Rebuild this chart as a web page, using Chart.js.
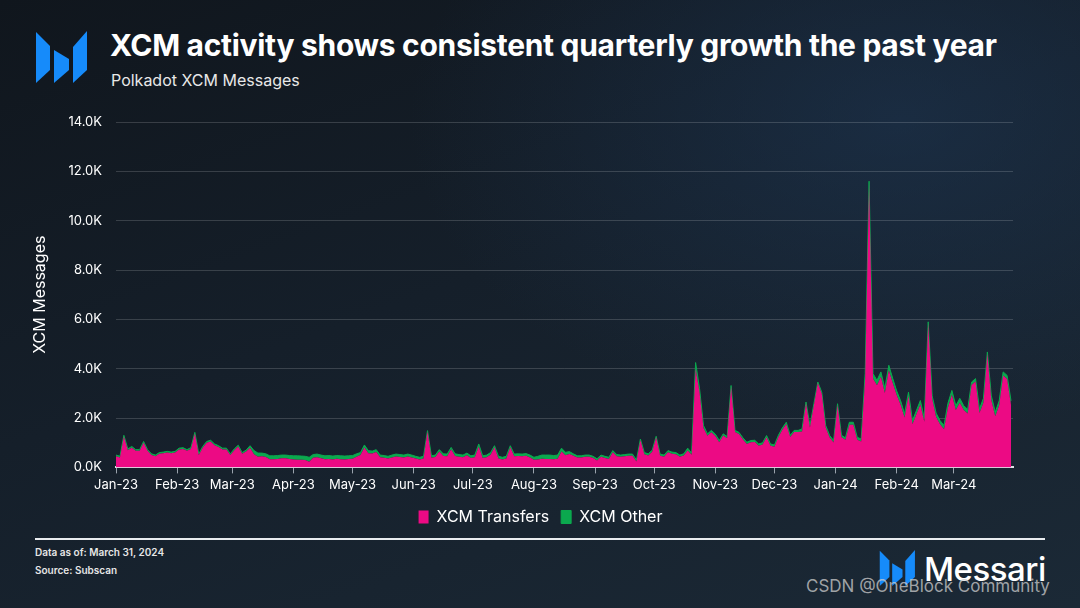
<!DOCTYPE html>
<html>
<head>
<meta charset="utf-8">
<script src="https://cdn.jsdelivr.net/npm/chart.js@4.4.1/dist/chart.umd.min.js"></script>
<style>
  html, body { margin: 0; padding: 0; }
  body {
    width: 1080px; height: 608px; overflow: hidden; position: relative;
    font-family: Inter, "Liberation Sans", sans-serif; color: #fff;
    background:
      radial-gradient(ellipse 700px 450px at 900px 120px, rgba(30,55,85,0.55), rgba(30,55,85,0) 70%),
      linear-gradient(160deg, #10161d 0%, #151f2a 45%, #1b2936 100%);
  }
  #title { position: absolute; left: 110px; top: 27px; font-size: 30px; font-weight: 700; letter-spacing: -0.3px; white-space: nowrap; }
  #subtitle { position: absolute; left: 111px; top: 70px; font-size: 16px; color: #e8e8e8; }
  #chartWrap { position: absolute; left: 0; top: 0; width: 1080px; height: 540px; }
  #rule { position: absolute; left: 35px; top: 538px; width: 1010px; height: 2px; background: #e9ecef; }
  .note { position: absolute; left: 35px; font-size: 10px; font-weight: 600; color: #e6e6e6; }
  #brand { position: absolute; left: 924px; top: 549px; font-size: 33px; font-weight: 500; letter-spacing: -0.5px; }
  #wm { position: absolute; left: 806px; top: 576px; font-size: 17px; color: rgba(205,205,205,0.75); white-space: nowrap; }
</style>
</head>
<body>
<svg style="position:absolute;left:0;top:0" width="100" height="100">
  <g fill="#168bfa">
    <polygon points="36,32 50,46 50,70 36,83"/>
    <polygon points="54,50 69,59 69,70 54,83"/>
    <polygon points="73,47 87,31 87,70 73,83"/>
  </g>
</svg>
<div id="title">XCM activity shows consistent quarterly growth the past year</div>
<div id="subtitle">Polkadot XCM Messages</div>
<div id="chartWrap"><canvas id="xcmChart" width="1080" height="540"></canvas></div>
<div id="rule"></div>
<div class="note" style="top:546px">Data as of: March 31, 2024</div>
<div class="note" style="top:564px">Source: Subscan</div>
<svg style="position:absolute;left:872px;top:548px" width="50" height="40" viewBox="30 28 62 58">
  <g fill="#168bfa">
    <polygon points="36,32 50,46 50,70 36,83"/>
    <polygon points="54,50 69,59 69,70 54,83"/>
    <polygon points="73,47 87,31 87,70 73,83"/>
  </g>
</svg>
<div id="brand">Messari</div>
<div id="wm">CSDN @OneBlock Community</div>

<script>
// one reading every 2 days, starting Jan 1 2023
const step = 2;

const monthStarts = [0, 31, 59, 90, 120, 151, 181, 212, 243, 273, 304, 334, 365, 396, 425];
const monthLabels = ["Jan-23", "Feb-23", "Mar-23", "Apr-23", "May-23", "Jun-23", "Jul-23", "Aug-23",
  "Sep-23", "Oct-23", "Nov-23", "Dec-23", "Jan-24", "Feb-24", "Mar-24"];

const xcmTransfers = [
  450, 400, 1250, 700, 800, 670, 670, 1000, 670, 500,
  450, 550, 570, 600, 570, 600, 730, 750, 670, 750,
  1370, 500, 800, 1000, 1050, 900, 830, 730, 730, 500,
  700, 850, 550, 640, 800, 530, 430, 450, 420, 330,
  330, 340, 370, 370, 340, 320, 310, 310, 300, 230,
  390, 410, 370, 330, 340, 320, 350, 330, 320, 340,
  350, 430, 500, 810, 570, 560, 620, 410, 390, 360,
  400, 440, 420, 400, 440, 400, 360, 320, 360, 1460,
  390, 420, 640, 460, 450, 740, 460, 430, 410, 490,
  380, 410, 850, 380, 410, 510, 820, 360, 320, 360,
  820, 450, 460, 450, 470, 400, 310, 320, 350, 340,
  340, 330, 350, 640, 490, 540, 470, 400, 400, 430,
  430, 380, 280, 430, 380, 340, 610, 450, 430, 450,
  470, 470, 240, 1110, 530, 480, 630, 1220, 470, 430,
  610, 550, 530, 430, 480, 680, 510, 4000, 3050, 1600,
  1280, 1420, 1270, 1020, 1290, 1180, 3280, 1430, 1350, 1130,
  950, 1020, 1030, 880, 930, 1220, 880, 840, 1230, 1530,
  1760, 1230, 1430, 1430, 1460, 2600, 1620, 2520, 3420, 2990,
  1620, 1210, 1010, 2530, 1220, 1120, 1730, 1730, 1120, 1050,
  3600, 11550, 3600, 3330, 3670, 3020, 3940, 3420, 2930, 2540,
  2020, 2900, 1750, 2150, 2550, 1850, 5850, 2780, 2040, 1750,
  1550, 2430, 2940, 2330, 2620, 2330, 2180, 3340, 3480, 2200,
  2620, 4620, 2720, 2070, 2520, 3720, 3580, 2530
];

const xcmOther = [
  50, 50, 50, 50, 50, 50, 50, 50, 50, 50,
  50, 50, 50, 50, 50, 50, 50, 50, 50, 50,
  50, 50, 50, 50, 50, 50, 50, 50, 50, 50,
  50, 50, 50, 60, 80, 150, 150, 130, 130, 140,
  140, 140, 130, 130, 140, 150, 160, 150, 150, 180,
  130, 130, 130, 140, 140, 140, 130, 140, 140, 130,
  130, 120, 100, 100, 110, 100, 100, 90, 90, 90,
  100, 100, 100, 100, 100, 100, 90, 90, 90, 30,
  80, 80, 80, 90, 90, 70, 90, 90, 90, 90,
  90, 90, 100, 90, 90, 90, 60, 90, 90, 90,
  60, 90, 90, 90, 90, 100, 100, 130, 150, 160,
  160, 150, 150, 140, 120, 100, 80, 70, 70, 70,
  70, 70, 70, 70, 70, 70, 70, 70, 70, 70,
  70, 70, 60, 40, 70, 70, 70, 40, 70, 70,
  70, 70, 70, 70, 70, 100, 70, 250, 150, 100,
  80, 80, 80, 70, 70, 70, 40, 70, 70, 70,
  70, 70, 70, 70, 70, 70, 70, 70, 70, 70,
  70, 70, 70, 70, 100, 50, 80, 60, 40, 60,
  80, 80, 80, 50, 80, 80, 100, 100, 100, 100,
  200, 50, 200, 200, 200, 180, 200, 180, 170, 160,
  150, 150, 150, 150, 160, 150, 50, 120, 160, 150,
  150, 170, 180, 170, 180, 170, 170, 120, 120, 170,
  180, 60, 180, 170, 180, 150, 150, 170
];

const toPoints = arr => arr.map((v, i) => ({ x: i * step, y: v }));

const ctx = document.getElementById("xcmChart").getContext("2d");
new Chart(ctx, {
  type: 'line',
  data: {
    datasets: [
      {
        label: 'XCM Transfers',
        data: toPoints(xcmTransfers),
        backgroundColor: '#ec0a84',
        borderColor: '#ec0a84',
        borderWidth: 0,
        pointRadius: 0,
        fill: 'origin',
        tension: 0
      },
      {
        label: 'XCM Other',
        data: toPoints(xcmOther),
        backgroundColor: '#0ba84e',
        borderColor: '#0ba84e',
        borderWidth: 1,
        pointRadius: 0,
        fill: '-1',
        tension: 0
      }
    ]
  },
  options: {
    responsive: false,
    animation: false,
    devicePixelRatio: 1,
    layout: { padding: { left: 68, right: 67, top: 122, bottom: 5 } },
    plugins: {
      tooltip: { enabled: false },
      legend: {
        position: 'bottom',
        labels: {
          color: '#ffffff',
          font: { family: 'Inter', size: 16 },
          boxWidth: 10,
          boxHeight: 13,
          padding: 12
        }
      }
    },
    scales: {
      x: {
        type: 'linear',
        min: 0,
        max: 455,
        afterBuildTicks: scale => { scale.ticks = monthStarts.map(v => ({ value: v })); },
        ticks: {
          color: '#ffffff',
          font: { family: 'Inter', size: 13 },
          maxRotation: 0,
          autoSkip: false,
          padding: 4,
          callback: (value) => monthLabels[monthStarts.indexOf(value)]
        },
        grid: { drawOnChartArea: false, color: '#9aa3ad', tickLength: 6 },
        border: { color: '#dde2e6', width: 2 }
      },
      y: {
        stacked: true,
        min: 0,
        max: 14000,
        afterFit: scale => { scale.width = 48; },
        ticks: {
          stepSize: 2000,
          color: '#ffffff',
          font: { family: 'Inter', size: 13 },
          padding: 14,
          callback: v => (v / 1000).toFixed(1) + 'K'
        },
        grid: { color: 'rgba(255,255,255,0.16)', drawTicks: false },
        border: { display: false },
        title: {
          display: true,
          text: 'XCM Messages',
          color: '#ffffff',
          font: { family: 'Inter', size: 16 },
          padding: { top: -37, bottom: 0 }
        }
      }
    }
  }
});
</script>
</body>
</html>
